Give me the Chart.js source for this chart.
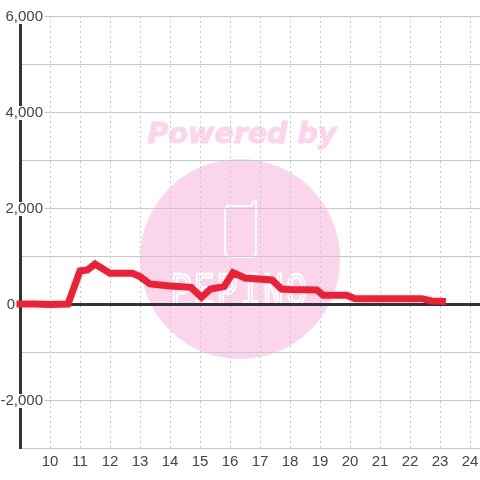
<!DOCTYPE html>
<html>
<head>
<meta charset="utf-8">
<script src="https://cdn.jsdelivr.net/npm/chart.js@4"></script>
<style>
html, body { margin: 0; padding: 0; background: #fff; }
#wrap { width: 480px; height: 480px; }
canvas { display: block; }
</style>
</head>
<body>
<div id="wrap"><canvas id="chart" width="480" height="480"></canvas></div>
<script>
// hour of day
var hours = [9, 9.5, 10, 10.6, 11, 11.25, 11.5, 12, 12.75, 13, 13.33, 14, 14.7, 15.05, 15.35, 15.8, 16.1, 16.5, 17.4, 17.72, 18, 18.9, 19.1, 19.89, 20.17, 22.39, 22.72, 23.08];
// amount
var amounts = [0, 0, -10, 0, 688, 708, 833, 639, 640, 570, 417, 375, 347, 139, 312, 361, 653, 541, 500, 312, 300, 292, 181, 181, 111, 111, 62, 56];
var yTicks = [6000, 4000, 2000, 0, -2000];
var watermarkText = 'Powered by';
var logoText = 'PEPINO';

// pink logo sits under the grid
var watermark = {
    id: 'watermark',
    beforeDraw: function (chart) {
        var ctx = chart.ctx;
        ctx.save();
        ctx.fillStyle = '#fbd5ec';
        ctx.strokeStyle = '#fbd5ec';
        ctx.beginPath();
        ctx.arc(240, 259, 100, 0, Math.PI * 2);
        ctx.fill();
        ctx.font = 'italic bold 28.5px "DejaVu Sans"';
        ctx.textAlign = 'center';
        ctx.textBaseline = 'middle';
        ctx.lineWidth = 1;
        ctx.fillText(watermarkText, 242, 136);
        ctx.strokeText(watermarkText, 242, 136);
        // phone outline
        ctx.strokeStyle = '#fff';
        ctx.lineWidth = 2;
        ctx.lineJoin = 'round';
        ctx.beginPath();
        ctx.moveTo(251, 206);
        ctx.lineTo(254, 201);
        ctx.lineTo(256, 201);
        ctx.lineTo(256, 254);
        ctx.lineTo(253, 257);
        ctx.lineTo(228, 257);
        ctx.lineTo(225, 254);
        ctx.lineTo(225, 209);
        ctx.lineTo(228, 206);
        ctx.closePath();
        ctx.stroke();
        // tall outlined letters
        ctx.translate(240, 293);
        ctx.scale(0.75, 1);
        ctx.font = '46px "Liberation Mono"';
        ctx.letterSpacing = '3px';
        ctx.lineWidth = 2.4;
        ctx.strokeText(logoText, 0, 0);
        ctx.restore();
    }
};

new Chart(document.getElementById('chart'), {
    type: 'line',
    data: {
        datasets: [{
            data: hours.map(function (h, i) { return { x: h, y: amounts[i] }; }),
            borderColor: '#ee2036',
            borderWidth: 7,
            borderCapStyle: 'square',
            borderJoinStyle: 'miter',
            pointRadius: 0,
            tension: 0,
            clip: false
        }]
    },
    plugins: [watermark],
    options: {
        responsive: false,
        animation: false,
        layout: { padding: { top: 16 } },
        plugins: { legend: { display: false }, tooltip: { enabled: false } },
        scales: {
            x: {
                type: 'linear',
                min: 9,
                max: 24.3333,
                afterFit: function (axis) { axis.height = 32; axis.paddingRight = 0; axis.paddingLeft = 0; },
                afterBuildTicks: function (axis) {
                    axis.ticks = [];
                    for (var h = 10; h <= 24; h++) axis.ticks.push({ value: h });
                },
                grid: { color: '#c8c8c8', lineWidth: 1, drawTicks: false },
                border: { display: false, dash: [2, 3] },
                ticks: { color: '#444', font: { family: 'Liberation Sans', size: 15 }, padding: 5, maxRotation: 0, autoSkip: false, callback: function (v) { return v; } }
            },
            y: {
                min: -3000,
                max: 6000,
                position: 'left',
                afterFit: function (axis) { axis.width = 20; axis.paddingTop = 0; axis.paddingBottom = 0; },
                afterBuildTicks: function (axis) {
                    axis.ticks = [];
                    for (var v = -3000; v <= 6000; v += 1000) axis.ticks.push({ value: v });
                },
                grid: {
                    color: function (c) { return c.tick && c.tick.value === 0 ? '#333' : '#c8c8c8'; },
                    lineWidth: function (c) { return c.tick && c.tick.value === 0 ? 3 : 1; },
                    drawTicks: false
                },
                border: { display: true, color: '#333', width: 3, z: -1 },
                ticks: {
                    color: '#444',
                    font: { family: 'Liberation Sans', size: 15, lineHeight: 1 },
                    mirror: true,
                    crossAlign: 'far',
                    padding: -19.5,
                    labelOffset: 1,
                    autoSkip: false,
                    showLabelBackdrop: function (c) { return c.tick.value !== 0 && yTicks.indexOf(c.tick.value) >= 0; },
                    backdropColor: '#fff',
                    backdropPadding: { top: -0.5, bottom: -0.5, left: 2, right: 2 },
                    callback: function (v) {
                        if (v === 0) return '0      \u2009';
                        return yTicks.indexOf(v) >= 0 ? v.toLocaleString('en-US') : '';
                    }
                }
            }
        }
    }
});
</script>
</body>
</html>
